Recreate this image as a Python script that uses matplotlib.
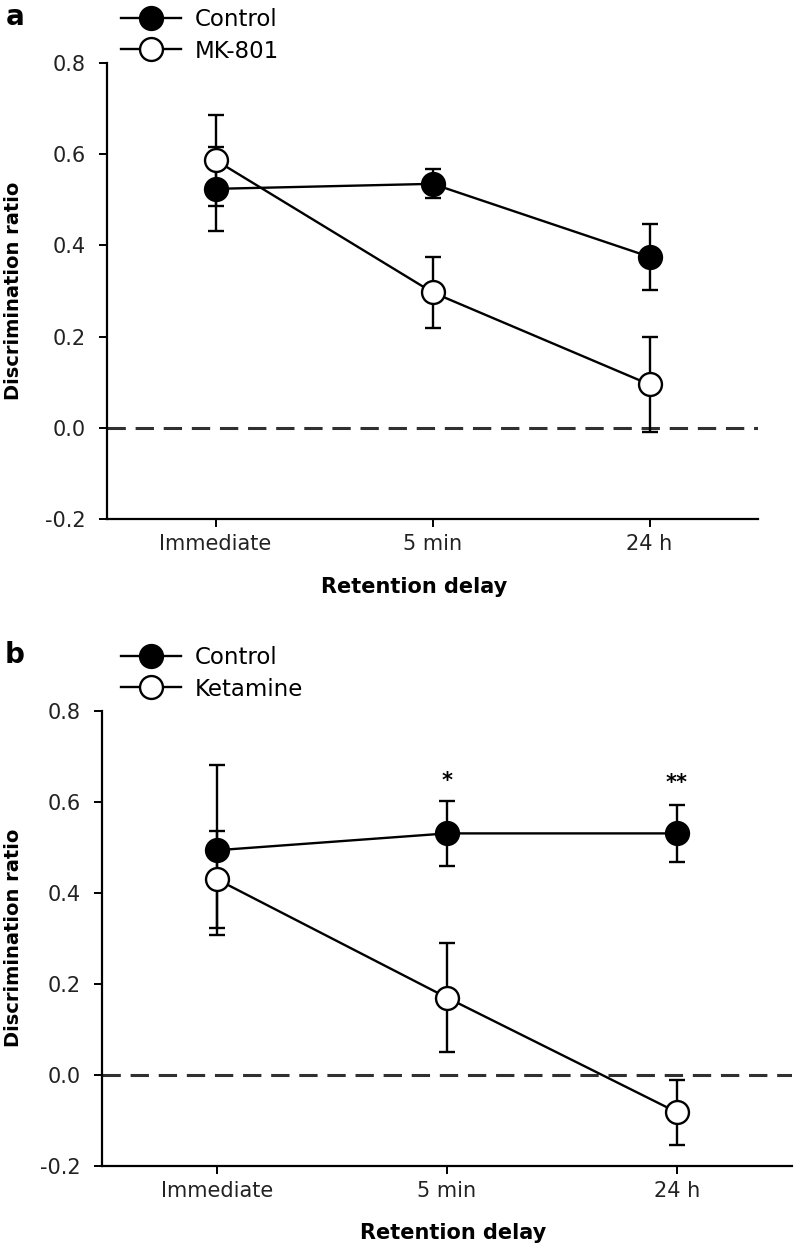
import matplotlib
matplotlib.use("Agg")
import matplotlib.pyplot as plt

# data
delays = ["Immediate", "5 min", "24 h"]

ctrl_a = [0.524, 0.535, 0.375]
ctrl_a_err = [0.092, 0.032, 0.073]
mk801 = [0.587, 0.297, 0.095]
mk801_err = [0.100, 0.078, 0.104]

ctrl_b = [0.494, 0.531, 0.531]
ctrl_b_err = [0.187, 0.072, 0.063]
ketamine = [0.430, 0.170, -0.082]
ketamine_err = [0.106, 0.120, 0.072]

stars_b = ["", "*", "**"]
stars_y = [0.0, 0.633, 0.628]

W, H = 794, 1247
fig = plt.figure(figsize=(W / 100, H / 100), dpi=100)
plt.rcParams["font.family"] = ["DejaVu Sans"]


def px_axes(left, top, right, bottom):
    # axes rectangle given in pixel coordinates of the reference
    return [left / W, 1 - bottom / H, (right - left) / W, (bottom - top) / H]


def draw_panel(ax, ctrl, ctrl_err, drug, drug_err, drug_label):
    x = list(range(len(delays)))
    common = dict(color="black", lw=1.7, elinewidth=1.7, capsize=6, capthick=1.7,
                  markersize=16.5, markeredgewidth=1.7, marker="o")
    e_drug = ax.errorbar(x, drug, yerr=drug_err, markerfacecolor="white", **common)
    e_ctrl = ax.errorbar(x, ctrl, yerr=ctrl_err, markerfacecolor="black", **common)
    ax.axhline(0, color="#303030", lw=2.2, linestyle=(0, (6, 3.2)), zorder=1)

    ax.set_xlim(-0.5, 2.5)
    ax.set_ylim(-0.2, 0.8)
    ax.set_xticks(x)
    ax.set_xticklabels(delays)
    ax.set_yticks([-0.2, 0.0, 0.2, 0.4, 0.6, 0.8])
    ax.set_yticklabels(["-0.2", "0.0", "0.2", "0.4", "0.6", "0.8"])
    for s in ["top", "right"]:
        ax.spines[s].set_visible(False)
    for s in ["left", "bottom"]:
        ax.spines[s].set_linewidth(1.6)
    ax.tick_params(axis="y", direction="out", length=5.5, width=1.4, pad=10,
                   labelsize=15, labelcolor="#222222")
    ax.tick_params(axis="x", direction="out", length=5.5, width=1.4, pad=5,
                   labelsize=15, labelcolor="#222222")

    # legend shows only line + marker, no error bars
    return [e_ctrl.lines[0], e_drug.lines[0]], ["Control", drug_label]


# panel a
ax_a = fig.add_axes(px_axes(107, 63, 758, 519))
h, l = draw_panel(ax_a, ctrl_a, ctrl_a_err, mk801, mk801_err, "MK-801")
fig.legend(h, l, loc="center left", bbox_to_anchor=(121 / W, 1 - 35.5 / H),
           frameon=False, fontsize=16.5, handlelength=2.6, handletextpad=0.6,
           labelspacing=0.35, borderpad=0, borderaxespad=0)
fig.text(15 / W, 1 - 25 / H, "a", fontsize=20, fontweight="bold", ha="center", va="baseline")
fig.text(14 / W, 1 - 291 / H, "Discrimination ratio", rotation=90, fontsize=14,
         fontweight="bold", ha="center", va="center")
fig.text(414 / W, 1 - 587 / H, "Retention delay", fontsize=15, fontweight="bold",
         ha="center", va="center")

# panel b
ax_b = fig.add_axes(px_axes(102, 711, 792, 1166))
h, l = draw_panel(ax_b, ctrl_b, ctrl_b_err, ketamine, ketamine_err, "Ketamine")
for i, s in enumerate(stars_b):
    if s:
        ax_b.text(i, stars_y[i], s, ha="center", va="baseline", fontsize=15, fontweight="bold")
fig.legend(h, l, loc="center left", bbox_to_anchor=(121 / W, 1 - 673.5 / H),
           frameon=False, fontsize=16.5, handlelength=2.6, handletextpad=0.6,
           labelspacing=0.35, borderpad=0, borderaxespad=0)
fig.text(15 / W, 1 - 663 / H, "b", fontsize=20, fontweight="bold", ha="center", va="baseline")
fig.text(14 / W, 1 - 938 / H, "Discrimination ratio", rotation=90, fontsize=14,
         fontweight="bold", ha="center", va="center")
fig.text(453 / W, 1 - 1233 / H, "Retention delay", fontsize=15, fontweight="bold",
         ha="center", va="center")

fig.savefig("out.png", dpi=100)
